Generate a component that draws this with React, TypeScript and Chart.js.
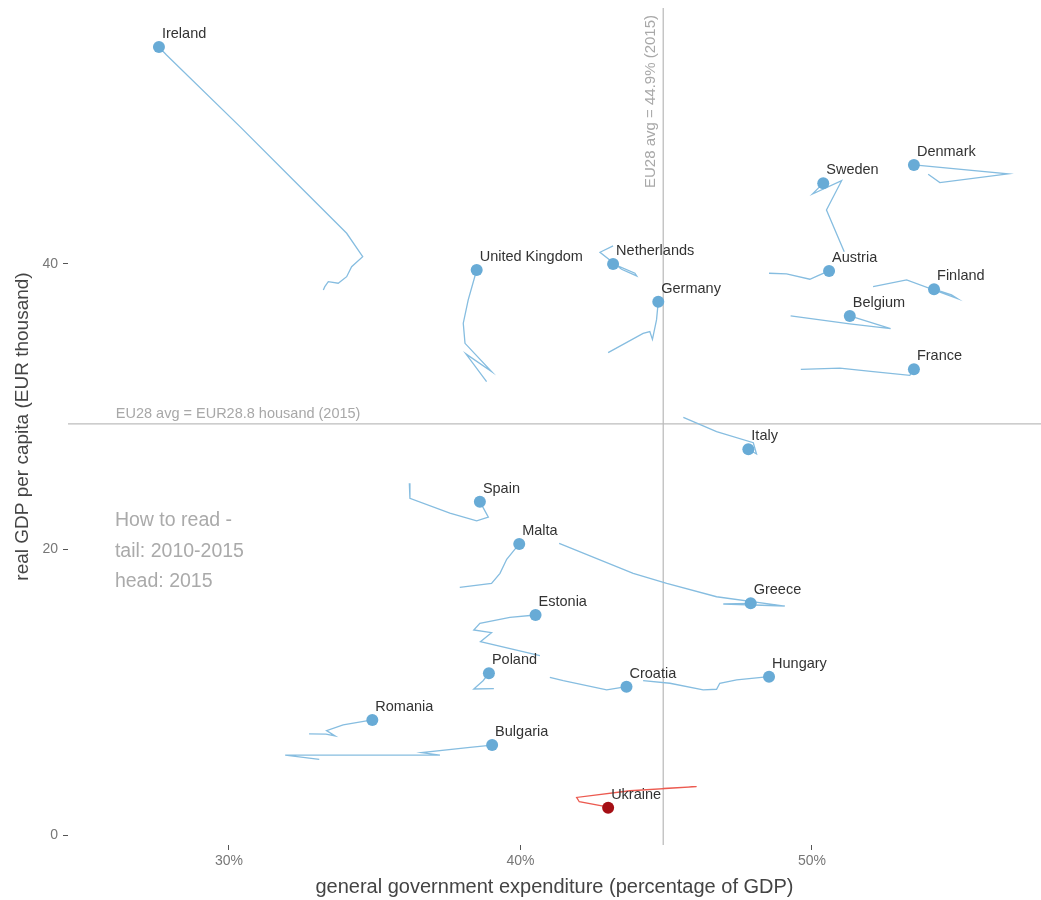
import React, { useEffect, useRef } from 'react';
import { Chart, registerables } from 'chart.js';

Chart.register(...registerables);

const COUNTRIES = ['Ireland', 'United Kingdom', 'Netherlands', 'Germany', 'Sweden', 'Denmark', 'Austria', 'Finland', 'Belgium', 'France', 'Italy', 'Spain', 'Malta', 'Greece', 'Estonia', 'Poland', 'Croatia', 'Hungary', 'Romania', 'Bulgaria', 'Ukraine'];
const HIGHLIGHT = 'Ukraine';

// 2015 position (head)
const HEAD_X = [27.60, 38.50, 43.18, 44.73, 50.39, 53.50, 50.59, 54.19, 51.30, 53.50, 47.82, 38.61, 39.96, 47.90, 40.52, 38.92, 43.64, 48.53, 34.92, 39.03, 43.01];
const HEAD_Y = [55.20, 39.58, 40.00, 37.36, 45.65, 46.94, 39.51, 38.23, 36.36, 32.62, 27.02, 23.35, 20.39, 16.23, 15.41, 11.33, 10.39, 11.09, 8.06, 6.30, 1.91];

// 2010-2015 path (tail), oldest first, head excluded
const TAIL_X = [
  [33.24, 33.29, 33.41, 33.75, 34.04, 34.21, 34.59, 34.04, 32.21, 30.38, 27.86],
  [38.84, 38.13, 39.01, 38.10, 38.04, 38.21],
  [43.18, 42.73, 43.47, 43.99, 43.93],
  [43.01, 44.21, 44.44, 44.53, 44.67],
  [51.11, 50.50, 51.02, 50.02, 50.27],
  [53.99, 54.39, 56.73],
  [48.53, 49.13, 49.93, 50.27],
  [52.10, 53.25, 54.99, 54.79],
  [49.27, 51.30, 52.70],
  [49.62, 50.96, 52.10, 53.36],
  [45.59, 46.73, 47.99, 48.10],
  [36.19, 36.21, 37.58, 38.50, 38.90],
  [37.92, 39.01, 39.30, 39.53],
  [41.33, 43.87, 45.02, 46.73, 49.07, 46.96],
  [40.67, 38.63, 39.01, 38.40, 38.61, 39.64],
  [39.09, 38.40, 38.72],
  [41.01, 41.47, 42.96],
  [44.21, 45.13, 46.27, 46.73, 46.84, 47.42],
  [32.75, 33.33, 33.64, 33.35, 33.92],
  [33.10, 31.93, 37.24, 36.61, 38.27],
  [44.90, 46.04, 43.76, 41.93, 42.02, 42.84],
];
const TAIL_Y = [
  [38.18, 38.41, 38.76, 38.65, 39.11, 39.81, 40.51, 42.15, 45.88, 49.62, 54.64],
  [31.76, 33.70, 32.46, 34.44, 35.85, 37.48],
  [41.27, 40.82, 39.63, 39.16, 39.35],
  [33.79, 35.14, 35.26, 34.72, 36.08],
  [40.86, 43.78, 45.83, 44.90, 45.42],
  [46.28, 45.70, 46.31],
  [39.35, 39.30, 38.93, 39.23],
  [38.41, 38.88, 37.57, 37.83],
  [36.36, 35.80, 35.47],
  [32.62, 32.71, 32.46, 32.20],
  [29.26, 28.25, 27.48, 26.69],
  [24.64, 23.59, 22.54, 22.00, 22.26],
  [17.35, 17.63, 18.33, 19.31],
  [20.43, 18.33, 17.63, 16.69, 16.04, 16.18],
  [12.56, 13.54, 14.17, 14.36, 14.83, 15.25],
  [10.25, 10.23, 10.81],
  [11.05, 10.81, 10.16],
  [10.81, 10.63, 10.16, 10.21, 10.63, 10.86],
  [7.08, 7.07, 6.94, 7.31, 7.71],
  [5.30, 5.60, 5.60, 5.77, 6.14],
  [3.27, 3.39, 3.10, 2.63, 2.33, 2.03],
];

const EU_AVG_X = 44.9;
const EU_AVG_Y = 28.8;
const EU_LABEL_X = 'EU28 avg = 44.9% (2015)';
const EU_LABEL_Y = 'EU28 avg = EUR28.8 housand (2015)';
const HOW_TO_READ = ['How to read -', 'tail: 2010-2015', 'head: 2015'];
const HOW_TO_READ_POS = [26.09, 22.0];

const X_TICKS = [30, 40, 50];
const Y_TICKS = [0, 20, 40];
const X_MIN = 24.48;
const X_MAX = 57.86;
const Y_MIN = -0.7;
const Y_MAX = 57.93;

const FONT = '"Liberation Sans", Arial, sans-serif';
const TAIL_BLUE = '#86bde0';
const HEAD_BLUE = '#68abd6';
const TAIL_RED = '#ec5a50';
const HEAD_RED = '#a50f15';

const refPlugin = {
  id: 'refLines',
  beforeDatasetsDraw(chart: any) {
    const { ctx, chartArea, scales } = chart;
    const xs = scales.x;
    const ys = scales.y;
    ctx.save();
    ctx.strokeStyle = '#bdbdbd';
    ctx.lineWidth = 1.3;
    const vx = xs.getPixelForValue(EU_AVG_X);
    const hy = ys.getPixelForValue(EU_AVG_Y);
    ctx.beginPath();
    ctx.moveTo(vx, chartArea.top);
    ctx.lineTo(vx, chartArea.bottom);
    ctx.moveTo(chartArea.left, hy);
    ctx.lineTo(chartArea.right, hy);
    ctx.stroke();

    ctx.fillStyle = '#a8a8a8';
    ctx.font = '14.5px ' + FONT;
    ctx.textAlign = 'left';
    ctx.textBaseline = 'alphabetic';
    ctx.fillText(EU_LABEL_Y, xs.getPixelForValue(26.12), hy - 6);

    ctx.save();
    ctx.translate(vx - 8, chartArea.top + 7);
    ctx.rotate(-Math.PI / 2);
    ctx.textAlign = 'right';
    ctx.textBaseline = 'alphabetic';
    ctx.font = '15px ' + FONT;
    ctx.fillText(EU_LABEL_X, 0, 0);
    ctx.restore();

    ctx.fillStyle = '#aaaaaa';
    ctx.font = '19.5px ' + FONT;
    ctx.textBaseline = 'middle';
    ctx.textAlign = 'left';
    const hx = xs.getPixelForValue(HOW_TO_READ_POS[0]);
    const hyy = ys.getPixelForValue(HOW_TO_READ_POS[1]);
    HOW_TO_READ.forEach((t, i) => ctx.fillText(t, hx, hyy + i * 30.5));
    ctx.restore();
  },
  afterDatasetsDraw(chart: any) {
    const { ctx, scales } = chart;
    ctx.save();
    ctx.fillStyle = '#333333';
    ctx.font = '14.5px ' + FONT;
    ctx.textAlign = 'left';
    ctx.textBaseline = 'middle';
    COUNTRIES.forEach((c, i) => {
      const px = scales.x.getPixelForValue(HEAD_X[i]);
      const py = scales.y.getPixelForValue(HEAD_Y[i]);
      ctx.fillText(c, px + 3, py - 13);
    });
    ctx.restore();
  },
};

export default function App() {
  const ref = useRef<HTMLCanvasElement>(null);
  useEffect(() => {
    if (!ref.current) return;
    const tailSets = COUNTRIES.map((c, i) => ({
      label: c,
      data: [...TAIL_X[i].map((x, j) => ({ x, y: TAIL_Y[i][j] })), { x: HEAD_X[i], y: HEAD_Y[i] }],
      showLine: true,
      borderColor: c === HIGHLIGHT ? TAIL_RED : TAIL_BLUE,
      borderWidth: 1.3,
      pointRadius: 0,
      tension: 0,
      order: 2,
    }));
    const heads = {
      label: 'heads',
      data: COUNTRIES.map((c, i) => ({ x: HEAD_X[i], y: HEAD_Y[i] })),
      pointRadius: 6,
      pointBorderWidth: 0,
      pointBackgroundColor: COUNTRIES.map((c) => (c === HIGHLIGHT ? HEAD_RED : HEAD_BLUE)),
      showLine: false,
      order: 0,
    };
    const chart = new Chart(ref.current, {
      type: 'scatter',
      data: { datasets: [heads as any, ...tailSets] },
      options: {
        animation: false,
        responsive: false,
        devicePixelRatio: 1,
        layout: { autoPadding: false, padding: { top: 8, left: 0, right: 0, bottom: 0 } },
        plugins: { legend: { display: false }, tooltip: { enabled: false } },
        scales: {
          x: {
            type: 'linear',
            min: X_MIN,
            max: X_MAX,
            afterBuildTicks: (s: any) => { s.ticks = X_TICKS.map((v) => ({ value: v })); },
            afterFit: (s: any) => { s.height = 55; s.paddingLeft = 0; s.paddingRight = 0; },
            grid: { drawOnChartArea: false, drawTicks: true, tickLength: 5, tickColor: '#555', tickWidth: 1 },
            border: { display: false },
            ticks: { callback: (v: any) => v + '%', color: '#777', font: { family: FONT, size: 14 }, padding: 3 },
            title: { display: true, text: 'general government expenditure (percentage of GDP)', color: '#444', font: { family: FONT, size: 20 }, padding: { top: 0, bottom: 1 } },
          },
          y: {
            type: 'linear',
            min: Y_MIN,
            max: Y_MAX,
            afterBuildTicks: (s: any) => { s.ticks = Y_TICKS.map((v) => ({ value: v })); },
            afterFit: (s: any) => { s.width = 68; s.paddingTop = 0; s.paddingBottom = 0; },
            grid: { drawOnChartArea: false, drawTicks: true, tickLength: 5, tickColor: '#555', tickWidth: 1 },
            border: { display: false },
            ticks: { color: '#777', font: { family: FONT, size: 14 }, padding: 5 },
            title: { display: true, text: 'real GDP per capita (EUR thousand)', color: '#444', font: { family: FONT, size: 19 }, padding: { top: 11, bottom: 0 } },
          },
        },
      },
      plugins: [refPlugin],
    });
    return () => chart.destroy();
  }, []);
  return (
    <div style={{ position: 'absolute', left: 0, top: 0, width: 1041, height: 900, background: '#fff' }}>
      <canvas ref={ref} width={1041} height={900} />
    </div>
  );
}
